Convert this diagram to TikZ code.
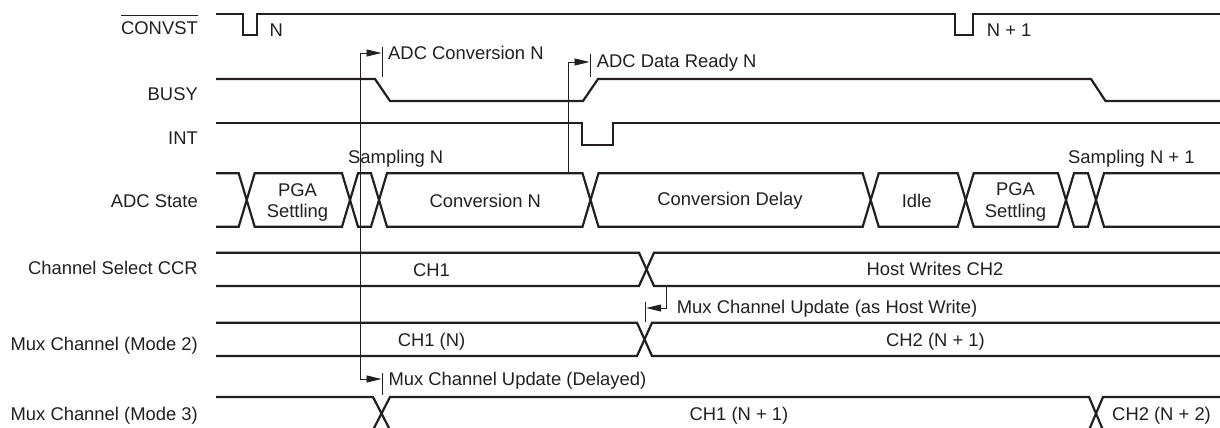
\documentclass[tikz,border=0pt]{standalone}
\usepackage{fontspec}
\setmainfont{Liberation Sans}
\usetikzlibrary{arrows.meta}
\definecolor{ink}{HTML}{231F20}
\begin{document}
\begin{tikzpicture}[x=1pt,y=-1pt,
  sig/.style={draw=ink, line width=2.2pt, line join=miter, line cap=butt},
  mk/.style={draw=ink, line width=0.9pt},
  arrowhd/.style={-{Triangle[length=15pt,width=7pt]}},
  bothhd/.style={{Triangle[length=15pt,width=7pt]}-{Triangle[length=15pt,width=7pt]}},
  txt/.style={text=ink, inner sep=0pt, font=\fontsize{18.4}{21}\selectfont},
  lbl/.style={txt, anchor=base east},
  lw/.style={txt, anchor=base west},
  lc/.style={txt, anchor=base}]
\useasboundingbox (0,0) rectangle (1220,428);
\clip (0,0) rectangle (1220,428);

% ---- left labels
\node[lbl] (lconv) at (198,34.3) {CONVST};
\draw[ink, line width=1.1pt] ([yshift=5.8pt]lconv.north west) -- ([yshift=5.8pt]lconv.north east);
\node[lbl] (lbusy) at (198,100) {BUSY};
\node[lbl] (lint) at (198,144) {INT};
\node[lbl] (ladc) at (198,207.7) {ADC State};
\node[lbl] (lccr) at (198,274.3) {Channel Select CCR};
\node[lbl] (lm2) at (198,350) {Mux Channel (Mode 2)};
\node[lbl] (lm3) at (198,420) {Mux Channel (Mode 3)};

% ---- CONVST
\draw[sig] (216,14) -- (242.7,14) -- (242.7,35) -- (257.3,35) -- (257.3,14)
  -- (955,14) -- (955,35) -- (972.7,35) -- (972.7,14) -- (1220,14);
\node[lw] (cn) at (269.3,36.5) {N};
\node[lw] (cn1) at (986.7,36.5) {N + 1};

% ---- BUSY
\draw[sig] (216,79) -- (375,79) -- (390,101) -- (583,101) -- (598,79)
  -- (1091,79) -- (1105.5,101) -- (1220,101);

% ---- INT
\draw[sig] (216,123.3) -- (581.7,123.3) -- (581.7,145) -- (612.7,145)
  -- (612.7,123.3) -- (1220,123.3);

% ---- ADC State bus
\draw[sig] (216,173.3) -- (238.7,173.3) -- (254.7,226.7) -- (342,226.7) -- (358,173.3)
  -- (371,173.3) -- (387,226.7) -- (582.5,226.7) -- (598.5,173.3) -- (862.7,173.3)
  -- (878.7,226.7) -- (957.7,226.7) -- (973.7,173.3) -- (1058,173.3) -- (1074,226.7)
  -- (1088,226.7) -- (1104,173.3) -- (1220,173.3);
\draw[sig] (216,226.7) -- (238.7,226.7) -- (254.7,173.3) -- (342,173.3) -- (358,226.7)
  -- (371,226.7) -- (387,173.3) -- (582.5,173.3) -- (598.5,226.7) -- (862.7,226.7)
  -- (878.7,173.3) -- (957.7,173.3) -- (973.7,226.7) -- (1058,226.7) -- (1074,173.3)
  -- (1088,173.3) -- (1104,226.7) -- (1220,226.7);
\node[lc] (pga1a) at (297.5,196.7) {PGA};
\node[lc] (pga1b) at (297.5,217.3) {Settling};
\node[lc] (convn) at (485.3,207.7) {Conversion N};
\node[lc] (cdel) at (730,205) {Conversion Delay};
\node[lc] (idle) at (916.7,207.7) {Idle};
\node[lc] (pga2a) at (1015.5,195.5) {PGA};
\node[lc] (pga2b) at (1015.5,217.5) {Settling};
\node[lw] (samp) at (348,163.3) {Sampling N};
\node[lw] (samp1) at (1068,163.3) {Sampling N + 1};

% ---- Channel Select CCR
\draw[sig] (216,252.7) -- (639,252.7) -- (654,286) -- (1220,286);
\draw[sig] (216,286) -- (639,286) -- (654,252.7) -- (1220,252.7);
\node[lc] (ch1) at (431.5,276) {CH1};
\node[lc] (hw) at (935,275) {Host Writes CH2};

% ---- Mux Channel Mode 2
\draw[sig] (216,322.7) -- (637,322.7) -- (652,356) -- (1220,356);
\draw[sig] (216,356) -- (637,356) -- (652,322.7) -- (1220,322.7);
\node[lc] (ch1n) at (431.5,346) {CH1 (N)};
\node[lc] (ch2n1) at (935.5,346) {CH2 (N + 1)};

% ---- Mux Channel Mode 3
\draw[sig] (216,397) -- (373,397) -- (390,430) -- (1089,430) -- (1103,397) -- (1220,397);
\draw[sig] (216,430) -- (373,430) -- (390,397) -- (1089,397) -- (1103,430) -- (1220,430);
\node[lc] (ch1n1) at (739,420) {CH1 (N + 1)};
\node[lw] (ch2n2) at (1112,420) {CH2 (N + 2)};

% ---- marker: ADC Conversion N / Mux Channel Update (Delayed)
\coordinate (tkA1) at (382,46.7);
\coordinate (tkA2) at (382,77.3);
\coordinate (tkB1) at (382,373);
\coordinate (tkB2) at (382,395);
\draw[mk] (tkA1) -- (tkA2);
\draw[mk] (tkB1) -- (tkB2);
\draw[mk, bothhd] (381.5,53) -- (360.5,53) -- (360.5,379) -- (381.5,379);
\node[lw] (adcconv) at (388,59.6) {ADC Conversion N};
\node[lw] (mcud) at (388.3,385) {Mux Channel Update (Delayed)};

% ---- marker: ADC Data Ready N
\coordinate (tkC1) at (590,54);
\coordinate (tkC2) at (590,77);
\draw[mk] (tkC1) -- (tkC2);
\draw[mk, arrowhd] (568.3,173.3) -- (568.3,62) -- (589.5,62);
\node[lw] (adr) at (596.7,67.7) {ADC Data Ready N};

% ---- marker: Mux Channel Update (as Host Write)
\coordinate (tkD1) at (645.7,301.7);
\coordinate (tkD2) at (645.7,321.7);
\draw[mk] (tkD1) -- (tkD2);
\draw[mk, arrowhd] (666.7,286) -- (666.7,308) -- (646.2,308);
\node[lw] (mchw) at (676.7,313.3) {Mux Channel Update (as Host Write)};
\end{tikzpicture}
\end{document}
